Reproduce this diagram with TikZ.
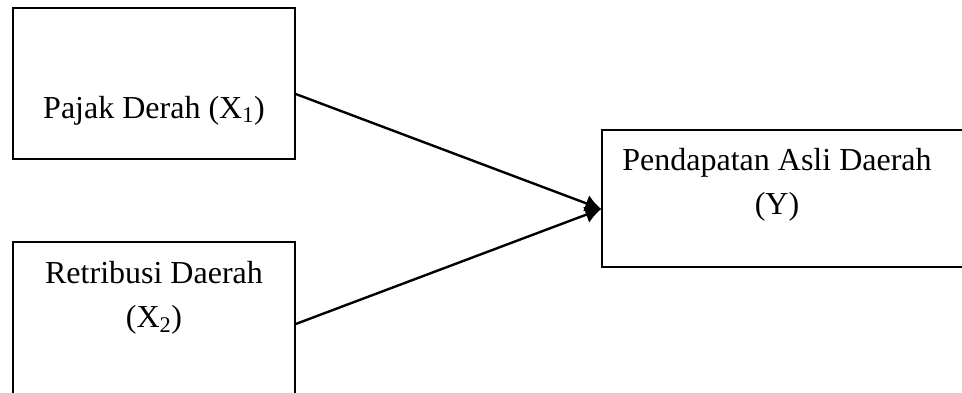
\documentclass[tikz,border=0pt]{standalone}
\usepackage{fontspec}
\setmainfont{Liberation Serif}
\usetikzlibrary{arrows.meta,calc}

\tikzset{
  kotak/.style={draw, line width=1.1pt, rectangle, inner sep=0pt, minimum width=211.5pt},
  teks/.style={font=\fontsize{24}{33}\selectfont, align=center, inner sep=0pt},
  panah/.style={-{Latex[length=12pt,width=13pt]}, line width=1.8pt}
}

\begin{document}
\begin{tikzpicture}[x=0.75pt,y=-0.75pt]
    \useasboundingbox (0,0) rectangle (962,392);
    \clip (0,0) rectangle (962,392); % the boxes run off the page
    \node[kotak, minimum height=113.25pt] (pajak) at (154,83.5) {};
    \node[kotak, minimum height=118.5pt] (retribusi) at (154,321) {};
    \node[kotak, minimum width=276pt, minimum height=102.75pt] (pad) at (786,198.5) {};
    \node[teks, anchor=base] (tpajak) at (154,118) {Pajak Derah (X\textsubscript{1})};
    \node[teks] (tretribusi) at (154,298) {Retribusi Daerah\\(X\textsubscript{2})};
    \node[teks] (tpad) at (777,185) {Pendapatan Asli Daerah\\(Y)};
    \coordinate (masuk) at ($(pad.west)+(0,10.5)$);
    \draw[panah] ($(pajak.east)+(0,10.5)$) -- (masuk);
    \draw[panah] ($(retribusi.east)+(0,3)$) -- (masuk);
\end{tikzpicture}
\end{document}
